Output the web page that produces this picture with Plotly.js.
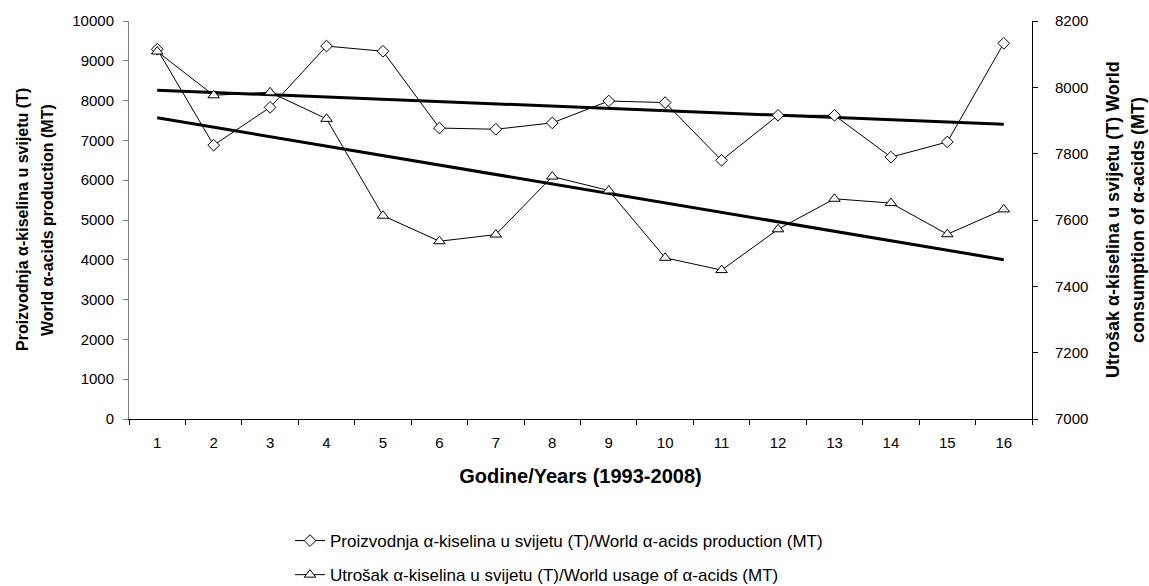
<!DOCTYPE html>
<html>
<head>
<meta charset="utf-8">
<script src="https://cdn.plot.ly/plotly-3.0.1.min.js"></script>
<style>html,body{margin:0;padding:0;background:#fff;}#chart{width:1149px;height:586px;}</style>
</head>
<body>
<div id="chart"></div>
<script>
// Data
var years = ["1","2","3","4","5","6","7","8","9","10","11","12","13","14","15","16"];
var production = [9290, 6880, 7830, 9370, 9240, 7310, 7280, 7440, 7990, 7950, 6500, 7630, 7630, 6580, 6960, 9440];
var usage = [8108, 7976, 7985, 7905, 7613, 7536, 7556, 7731, 7689, 7486, 7449, 7572, 7664, 7651, 7557, 7632];

var nameProd = "Proizvodnja α-kiselina u svijetu (T)/World α-acids production (MT)";
var nameUse = "Utrošak α-kiselina u svijetu (T)/World usage of α-acids (MT)";
var xTitle = "Godine/Years (1993-2008)";
var yTitle1 = ["Proizvodnja α-kiselina u svijetu (T)", "World α-acids production (MT)"];
var yTitle2 = ["Utrošak α-kiselina u svijetu (T) World", "consumption of α-acids (MT)"];

// Linear trend (least squares) as in the original spreadsheet chart
function linearTrend(vals) {
  var n = vals.length, sx = 0, sy = 0, sxx = 0, sxy = 0;
  for (var i = 0; i < n; i++) {
    var x = i + 1;
    sx += x; sy += vals[i]; sxx += x * x; sxy += x * vals[i];
  }
  var b = (n * sxy - sx * sy) / (n * sxx - sx * sx);
  var a = (sy - b * sx) / n;
  return vals.map(function (_, i) { return a + b * (i + 1); });
}

var font = "Liberation Sans, Arial, sans-serif";

var traces = [
  {
    x: years, y: linearTrend(production), type: "scatter", mode: "lines",
    line: {color: "#000", width: 3}, showlegend: false, hoverinfo: "skip", yaxis: "y"
  },
  {
    x: years, y: linearTrend(usage), type: "scatter", mode: "lines",
    line: {color: "#000", width: 3}, showlegend: false, hoverinfo: "skip", yaxis: "y2"
  },
  {
    x: years, y: production, name: nameProd, type: "scatter", mode: "lines+markers",
    line: {color: "#000", width: 1},
    marker: {symbol: "diamond", size: 9, color: "#fff", line: {color: "#000", width: 1}},
    legendgroup: "a", yaxis: "y"
  },
  {
    x: years, y: usage, name: nameUse, type: "scatter", mode: "lines+markers",
    line: {color: "#000", width: 1},
    marker: {symbol: "triangle-up", size: 10, color: "#fff", line: {color: "#000", width: 1}},
    legendgroup: "b", yaxis: "y2"
  }
];

var axisFontSize = 15;
var layout = {
  width: 1149, height: 586,
  margin: {l: 129, r: 117, t: 21, b: 167, pad: 0, autoexpand: false},
  paper_bgcolor: "#fff", plot_bgcolor: "#fff",
  font: {family: font, size: 14, color: "#000"},
  showlegend: true,
  xaxis: {
    type: "category", range: [-0.5, 15.5],
    tickson: "boundaries", ticks: "outside", ticklen: 5, tickcolor: "#000",
    showline: true, linecolor: "#000", linewidth: 1, showgrid: false, zeroline: false,
    ticklabelstandoff: 10,
    tickfont: {family: font, size: axisFontSize},
    title: {text: "<b>" + xTitle + "</b>", font: {family: font, size: 20}, standoff: 18}
  },
  xaxis2: {
    overlaying: "x", range: [0.5, 16.5], tick0: 0.5, dtick: 1,
    ticks: "inside", ticklen: 3, tickcolor: "#000", showticklabels: false,
    showline: false, showgrid: false, zeroline: false
  },
  yaxis: {
    range: [0, 10000], dtick: 1000, tickformat: "d", ticks: "outside", ticklen: 5, tickcolor: "#808080",
    showline: true, linecolor: "#808080", linewidth: 1, showgrid: false, zeroline: false,
    ticklabelstandoff: 6,
    tickfont: {family: font, size: axisFontSize}
  },
  yaxis2: {
    overlaying: "y", side: "right",
    range: [7000, 8200], dtick: 200, tickformat: "d", ticks: "outside", ticklen: 5, tickcolor: "#000",
    showline: true, linecolor: "#000", linewidth: 1, showgrid: false, zeroline: false,
    ticklabelstandoff: 14,
    tickfont: {family: font, size: axisFontSize}
  },
  yaxis3: {
    overlaying: "y", side: "left", range: [0, 10000], dtick: 1000,
    ticks: "inside", ticklen: 3, tickcolor: "#808080", showticklabels: false,
    showline: false, showgrid: false, zeroline: false
  },
  yaxis4: {
    overlaying: "y", side: "right", range: [7000, 8200], dtick: 200,
    ticks: "inside", ticklen: 4, tickcolor: "#000", showticklabels: false,
    showline: false, showgrid: false, zeroline: false
  },
  annotations: [
    {text: "<b>" + yTitle1[0] + "</b>", textangle: -90, xref: "paper", yref: "paper",
     x: (22 - 129) / 903, y: 0.5, xanchor: "center", yanchor: "middle", showarrow: false,
     font: {family: font, size: 16}},
    {text: "<b>" + yTitle1[1] + "</b>", textangle: -90, xref: "paper", yref: "paper",
     x: (47 - 129) / 903, y: 0.5, xanchor: "center", yanchor: "middle", showarrow: false,
     font: {family: font, size: 16}},
    {text: "<b>" + yTitle2[0] + "</b>", textangle: -90, xref: "paper", yref: "paper",
     x: (1113 - 129) / 903, y: 0.5, xanchor: "center", yanchor: "middle", showarrow: false,
     font: {family: font, size: 18}},
    {text: "<b>" + yTitle2[1] + "</b>", textangle: -90, xref: "paper", yref: "paper",
     x: (1138 - 129) / 903, y: 0.5, xanchor: "center", yanchor: "middle", showarrow: false,
     font: {family: font, size: 18}}
  ],
  legend: {
    x: (290 - 129) / 903, xanchor: "left", y: (419 - 523) / 398, yanchor: "top",
    orientation: "v", traceorder: "grouped", tracegroupgap: 9,
    font: {family: font, size: 17}, bgcolor: "rgba(0,0,0,0)"
  }
};

Plotly.newPlot("chart", traces, layout, {displayModeBar: false, staticPlot: true});
</script>
</body>
</html>
